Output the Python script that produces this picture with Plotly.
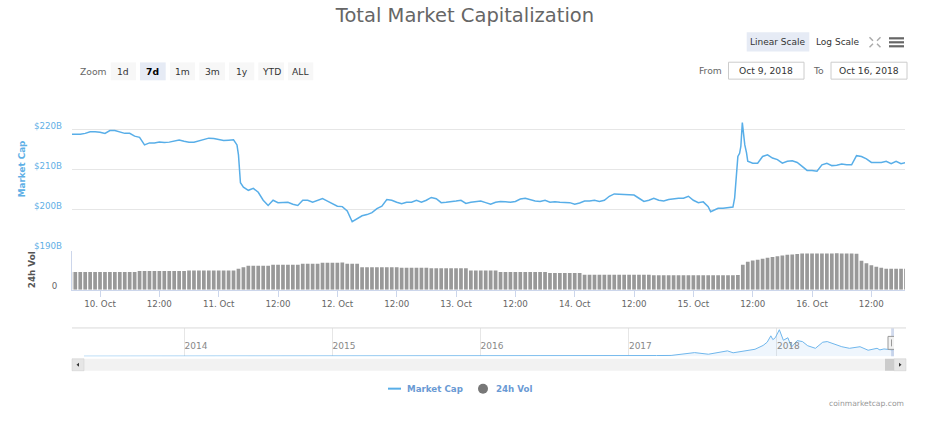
import pandas as pd
import plotly.graph_objects as go

# ---------------- data (values in billions USD) ----------------
mcap_start = "2018-10-09 18:00"
# hourly market-cap readings, hour 0 = 2018-10-09 18:00
mcap_hourly = [
    218.8, 218.8, 218.8, 219.0, 219.4, 219.4, 219.3, 219.0, 219.7, 219.7,
    219.3, 219.0, 219.0, 218.3, 218.0, 216.1, 216.6, 216.6, 216.8, 216.7,
    216.8, 217.0, 217.3, 217.0, 216.8, 216.8, 217.1, 217.5, 217.8, 217.7,
    217.5, 217.2, 217.3, 217.4, 213.6, 205.5, 204.7, 205.2, 204.2, 202.2,
    200.9, 202.2, 201.6, 201.7, 201.7, 201.2, 200.9, 202.2, 202.2, 201.7,
    202.2, 202.6, 202.0, 201.4, 200.7, 200.6, 199.5, 196.8, 197.6, 198.3,
    198.6, 199.1, 200.1, 200.7, 202.4, 202.2, 201.7, 201.3, 201.7, 201.7,
    202.2, 201.7, 202.2, 202.9, 202.6, 201.6, 201.7, 201.8, 202.0, 202.2,
    201.4, 201.7, 201.9, 202.0, 201.6, 201.2, 201.7, 201.9, 201.8, 201.7,
    201.9, 202.5, 202.7, 202.3, 202.0, 201.9, 202.2, 201.7, 201.8, 201.7,
    201.6, 201.6, 201.2, 201.5, 202.0, 202.0, 202.2, 201.9, 202.2, 203.2,
    203.8, 203.7, 203.7, 203.6, 203.5, 202.7, 201.9, 202.2, 202.7, 202.2,
    202.0, 202.4, 202.6, 202.7, 202.7, 203.2, 202.2, 201.6, 201.8, 200.6,
    199.6, 200.2, 200.2, 200.4, 200.5, 213.2, 220.2, 212.0, 211.5, 211.5,
    213.2, 213.6, 212.8, 212.4, 211.5, 212.0, 212.1, 211.7, 210.7, 209.7,
    209.7, 209.5, 211.1, 211.5, 210.9, 211.0, 211.3, 211.1, 211.1, 213.4,
    213.2, 212.6, 211.7, 211.7, 211.7, 212.0, 211.4, 212.0, 211.4, 211.7,
]
# extra readings around the sharp moves (hour offset, value)
extra_hours = [33.7, 34.4, 129.5, 134.35, 134.7, 135.35, 135.6, 135.9, 136.15, 136.4, 136.75]
extra_values = [216.1, 206.6, 199.3, 202.8, 207.4, 214.0, 215.7, 221.7, 219.0, 216.1, 214.1]

# hourly 24h volume readings (billions), hour 0 = 2018-10-09 18:00
vol_hourly = [
    8.85, 8.85, 8.85, 8.85, 8.85, 8.85, 8.85, 8.85, 8.85, 8.85,
    8.85, 8.85, 8.85, 8.85, 9.3, 9.3, 9.3, 9.3, 9.3, 9.3,
    9.3, 9.3, 9.3, 9.3, 9.65, 9.65, 9.65, 9.65, 9.65, 9.65,
    9.65, 9.65, 9.65, 9.65, 10.5, 11.3, 12.0, 12.0, 12.0, 12.0,
    12.0, 12.5, 12.5, 12.5, 12.5, 12.5, 12.5, 13.0, 13.0, 13.0,
    13.0, 13.5, 13.5, 13.5, 13.5, 13.6, 13.0, 13.0, 13.0, 11.3,
    11.3, 11.3, 11.3, 11.3, 11.3, 11.3, 11.3, 11.0, 11.0, 11.0,
    11.0, 11.0, 11.0, 10.8, 10.8, 10.8, 10.8, 10.8, 10.8, 10.8,
    10.8, 9.6, 9.6, 9.6, 9.6, 9.6, 9.6, 8.8, 8.8, 8.8,
    8.8, 8.8, 8.8, 8.8, 8.8, 8.8, 8.8, 8.3, 8.3, 8.3,
    8.3, 8.3, 8.3, 8.3, 7.5, 7.5, 7.5, 7.5, 7.5, 7.5,
    7.5, 7.5, 7.5, 7.5, 7.5, 7.5, 7.5, 7.5, 7.2, 7.2,
    7.2, 7.2, 7.2, 7.2, 7.2, 7.2, 7.2, 7.2, 7.2, 7.2,
    7.2, 7.2, 7.2, 7.2, 7.2, 7.4, 12.5, 14.0, 14.6, 15.0,
    15.5, 16.0, 16.4, 16.8, 17.2, 17.5, 17.7, 17.9, 18.1, 18.2,
    18.2, 18.2, 18.2, 18.2, 18.2, 18.3, 18.2, 18.2, 18.2, 18.0,
    14.5, 13.2, 12.2, 11.5, 11.0, 10.5, 10.5, 10.5, 10.5, 10.5,
]

x_range = ["2018-10-09 18:20", "2018-10-16 18:48"]
x_tick_vals = [
    "2018-10-10 00:00", "2018-10-10 12:00", "2018-10-11 00:00", "2018-10-11 12:00",
    "2018-10-12 00:00", "2018-10-12 12:00", "2018-10-13 00:00", "2018-10-13 12:00",
    "2018-10-14 00:00", "2018-10-14 12:00", "2018-10-15 00:00", "2018-10-15 12:00",
    "2018-10-16 00:00", "2018-10-16 12:00",
]
x_tick_text = ["10. Oct", "12:00", "11. Oct", "12:00", "12. Oct", "12:00", "13. Oct",
               "12:00", "14. Oct", "12:00", "15. Oct", "12:00", "16. Oct", "12:00"]
y_tick_vals = [190, 200, 210, 220, 230]
y_tick_text = ["$190B", "$200B", "$210B", "$220B", ""]

# navigator: whole history of total market cap (billions)
nav_dates = [
    "2013-04-28", "2013-06-01", "2013-08-01", "2013-10-01", "2013-11-15", "2013-12-04",
    "2013-12-20", "2014-01-15", "2014-02-25", "2014-04-10", "2014-06-05", "2014-08-01",
    "2014-10-01", "2014-12-01", "2015-01-15", "2015-03-01", "2015-06-01", "2015-08-01",
    "2015-11-05", "2016-01-01", "2016-03-15", "2016-06-18", "2016-09-01", "2016-12-01",
    "2017-01-05", "2017-02-15", "2017-03-10", "2017-04-15", "2017-05-25", "2017-06-12",
    "2017-07-16", "2017-08-05", "2017-09-01", "2017-09-15", "2017-10-20", "2017-11-08",
    "2017-11-28", "2017-12-08", "2017-12-17", "2017-12-22", "2017-12-28", "2018-01-07",
    "2018-01-17", "2018-01-28", "2018-02-06", "2018-02-20", "2018-03-05", "2018-03-18",
    "2018-04-06", "2018-04-24", "2018-05-05", "2018-05-28", "2018-06-10", "2018-06-29",
    "2018-07-25", "2018-08-14", "2018-09-05", "2018-09-12", "2018-09-22", "2018-10-10",
    "2018-10-16",
]
nav_values = [
    1.6, 1.4, 1.3, 1.6, 5, 15,
    8, 11, 7, 4, 9, 8,
    5.5, 5.5, 3, 4, 3.5, 4.5,
    6.5, 7, 8, 13, 10.5, 12,
    17, 17, 24, 27, 90, 115,
    65, 100, 170, 110, 170, 220,
    340, 440, 640, 520, 580, 830,
    500, 580, 290, 490, 460, 330,
    250, 440, 460, 350, 300, 250,
    300, 190, 250, 200, 230, 205,
    210,
]
nav_range = ["2013-04-28", "2018-10-16 18:48"]
nav_tick_vals = ["2014-01-01", "2015-01-01", "2016-01-01", "2017-01-01", "2018-01-01"]
nav_tick_text = ["2014", "2015", "2016", "2017", "2018"]

# ---------------- build ----------------
start = pd.Timestamp(mcap_start)
hourly_t = [start + pd.Timedelta(hours=h) for h in range(len(mcap_hourly))]
extra_t = [start + pd.Timedelta(hours=h) for h in extra_hours]
mcap = sorted(zip(hourly_t + extra_t, mcap_hourly + extra_values))
mcap_t = [p[0] for p in mcap]
mcap_v = [p[1] for p in mcap]
vol_t = [start + pd.Timedelta(hours=h) for h in range(len(vol_hourly))]

# layout positions are fractions of the 929 x 424 frame; the figure fills the window
REF_W, REF_H = 929, 424
FONT = "DejaVu Sans"
BLUE = "#58aee8"
AXIS_BLUE = "#5fb0e6"
LEG_BLUE = "#6a9ad4"


def px(x):
    return x / REF_W


def py(y):
    return 1 - y / REF_H


fig = go.Figure()
fig.add_trace(go.Scatter(x=mcap_t, y=mcap_v, mode="lines", xaxis="x", yaxis="y",
                         line=dict(color=BLUE, width=1.5), name="Market Cap",
                         hoverinfo="skip"))
fig.add_trace(go.Bar(x=vol_t, y=vol_hourly, xaxis="x", yaxis="y2",
                     marker=dict(color="#999999", line=dict(width=0)),
                     name="24h Vol", hoverinfo="skip"))
fig.add_trace(go.Scatter(x=nav_dates, y=nav_values, mode="lines", xaxis="x2", yaxis="y3",
                         line=dict(color="#6fb6ec", width=1), fill="tozeroy",
                         fillcolor="rgba(124,181,236,0.12)", hoverinfo="skip",
                         showlegend=False))

shapes = []
annotations = []


def rect(x0, y0, x1, y1, fill, line=None, lw=0):
    shapes.append(dict(type="rect", xref="paper", yref="paper",
                       x0=px(x0), x1=px(x1), y0=py(y1), y1=py(y0),
                       fillcolor=fill, line=dict(color=line or fill, width=lw),
                       layer="above"))


def seg(x0, y0, x1, y1, color, width=1):
    shapes.append(dict(type="line", xref="paper", yref="paper",
                       x0=px(x0), x1=px(x1), y0=py(y0), y1=py(y1),
                       line=dict(color=color, width=width), layer="above"))


def text(x, y, s, size=9, color="#333333", anchor="center", bold=False, angle=0):
    annotations.append(dict(x=px(x), y=py(y), xref="paper", yref="paper",
                            text=s, showarrow=False, xanchor=anchor, yanchor="middle",
                            textangle=angle,
                            font=dict(family=FONT, size=size, color=color,
                                      weight="bold" if bold else "normal")))


# range selector
text(93.5, 71.5, "Zoom", 9.2, "#666666")
buttons = [("1d", 110.7, 136), ("7d", 140, 165.7), ("1m", 170, 195), ("3m", 199.3, 225),
           ("1y", 229, 254.3), ("YTD", 258.3, 284), ("ALL", 288, 313.3)]
for lab, a, b in buttons:
    sel = lab == "7d"
    rect(a, 62.7, b, 80.7, "#e6ebf5" if sel else "#f7f7f7")
    text((a + b) / 2, 71.5, lab, 9.2, "#000000" if sel else "#333333", bold=sel)

# date inputs
text(710.5, 71, "From", 9.2, "#666666")
rect(728.5, 62.5, 804, 79.5, "#ffffff", "#cccccc", 1)
text(766, 71, "Oct 9, 2018", 9.2, "#333333")
text(818.5, 71, "To", 9.2, "#666666")
rect(831, 62.5, 907, 79.5, "#ffffff", "#cccccc", 1)
text(869, 71, "Oct 16, 2018", 9.2, "#333333")

# scale buttons / icons
rect(746.7, 32.3, 809.3, 51.7, "#e6ebf5")
text(778, 42, "Linear Scale", 9, "#333333")
text(837.5, 42, "Log Scale", 9, "#333333")
for (a, b, c, d) in [(869.5, 37.5, 873, 41), (880.5, 37.5, 877, 41),
                     (869.5, 47.5, 873, 44), (880.5, 47.5, 877, 44)]:
    seg(a, b, c, d, "#aaaaaa", 1.5)
for yy in (38.5, 42.5, 46.5):
    seg(889, yy, 904, yy, "#666666", 2.2)

# axis titles
text(22, 170, "Market Cap", 8.8, AXIS_BLUE, bold=True, angle=-90)
text(31.5, 271, "24h Vol", 8.8, "#555555", bold=True, angle=-90)

# navigator decorations
seg(72, 329.5, 906, 329.5, "#d9d9d9", 1)
shapes.append(dict(type="rect", xref="x2", yref="paper", x0=x_range[0], x1=x_range[1],
                   y0=py(358), y1=py(330), fillcolor="rgba(102,133,194,0.3)",
                   line=dict(width=0), layer="above"))
shapes.append(dict(type="rect", xref="x2", yref="paper", xsizemode="pixel",
                   xanchor=x_range[1], x0=-6, x1=4, y0=py(351), y1=py(338),
                   fillcolor="#f2f2f2", line=dict(color="#999999", width=1), layer="above"))
for dx in (-2.5, 0.5):
    shapes.append(dict(type="line", xref="x2", yref="paper", xsizemode="pixel",
                       xanchor=x_range[1], x0=dx, x1=dx, y0=py(348), y1=py(341),
                       line=dict(color="#999999", width=1), layer="above"))

# scrollbar
rect(72, 360.5, 906, 372.5, "#f2f2f2")
rect(885, 360.5, 894, 372.5, "#cccccc")
rect(72, 360.5, 84, 372.5, "#e6e6e6", "#cccccc", 0.5)
rect(894, 360.5, 906, 372.5, "#e6e6e6", "#cccccc", 0.5)
shapes.append(dict(type="path", xref="paper", yref="paper", layer="above",
                   path=f"M {px(79)},{py(364.5)} L {px(76.5)},{py(366.5)} L {px(79)},{py(368.5)} Z",
                   fillcolor="#333333", line=dict(width=0)))
shapes.append(dict(type="path", xref="paper", yref="paper", layer="above",
                   path=f"M {px(899)},{py(364.5)} L {px(901.5)},{py(366.5)} L {px(899)},{py(368.5)} Z",
                   fillcolor="#333333", line=dict(width=0)))

# legend
seg(388, 390.5, 401, 390.5, BLUE, 2)
text(405, 390.5, "Market Cap", 8.7, LEG_BLUE, anchor="left", bold=True)
shapes.append(dict(type="circle", xref="paper", yref="paper", x0=px(478), x1=px(488),
                   y0=py(395.5), y1=py(385.5), fillcolor="#777777",
                   line=dict(width=0), layer="above"))
text(494, 390.5, "24h Vol", 8.7, LEG_BLUE, anchor="left", bold=True)

# credits
text(906, 405.5, "coinmarketcap.com", 7.6, "#999999", anchor="right")

tick_font = dict(family=FONT, size=8.7, color="#666666")

fig.update_layout(
    autosize=True,
    margin=dict(l=0, r=0, t=0, b=0, pad=0),
    paper_bgcolor="#ffffff", plot_bgcolor="#ffffff",
    showlegend=False,
    bargap=0.25,
    title=dict(text="Total Market Capitalization", x=px(465), xanchor="center",
               y=py(15), yanchor="middle", yref="container",
               font=dict(family=FONT, size=19.5, color="#666666")),
    xaxis=dict(domain=[px(72), px(905)], anchor="y2", type="date", range=x_range,
               tickvals=x_tick_vals, ticktext=x_tick_text, ticks="outside", ticklen=6,
               tickcolor="#ccd6eb", showline=True, linecolor="#ccd6eb", showgrid=False,
               zeroline=False, tickfont=tick_font),
    yaxis=dict(domain=[py(250), py(90)], anchor="x", range=[190, 230],
               tickvals=y_tick_vals, ticktext=y_tick_text, showgrid=True,
               gridcolor="#e6e6e6", gridwidth=1, zeroline=False, showline=False,
               ticklabelstandoff=9, ticklabelshift=-3,
               tickfont=dict(family=FONT, size=8.7, color=AXIS_BLUE)),
    yaxis2=dict(domain=[py(291), py(252)], anchor="x", range=[0, 19.5],
                tickvals=[0], ticktext=["0"], showgrid=False, zeroline=False,
                showline=True, linecolor="#ccd6eb", ticklabelstandoff=12, ticklabelshift=-4,
                tickfont=tick_font),
    xaxis2=dict(domain=[px(84), px(894)], anchor="y3", type="date", range=nav_range,
                tickvals=nav_tick_vals, ticktext=nav_tick_text,
                ticklabelposition="inside right", showgrid=True, gridcolor="#e6e6e6",
                showline=False, zeroline=False, ticks="",
                tickfont=dict(family=FONT, size=9, color="#888888")),
    yaxis3=dict(domain=[py(358), py(330)], anchor="x2", range=[0, 870], visible=False),
    shapes=shapes,
    annotations=annotations,
)

# the figure fills the browser window exactly (no body margin, no scrolling)
fig.write_html(
    "out.html",
    config={"displayModeBar": False, "responsive": True},
    default_width="100vw",
    default_height="100vh",
    post_script=(
        "document.documentElement.style.margin='0';"
        "document.documentElement.style.overflow='hidden';"
        "document.body.style.margin='0';"
        "document.body.style.overflow='hidden';"
        "Plotly.Plots.resize(document.getElementById('{plot_id}'));"
    ),
)
